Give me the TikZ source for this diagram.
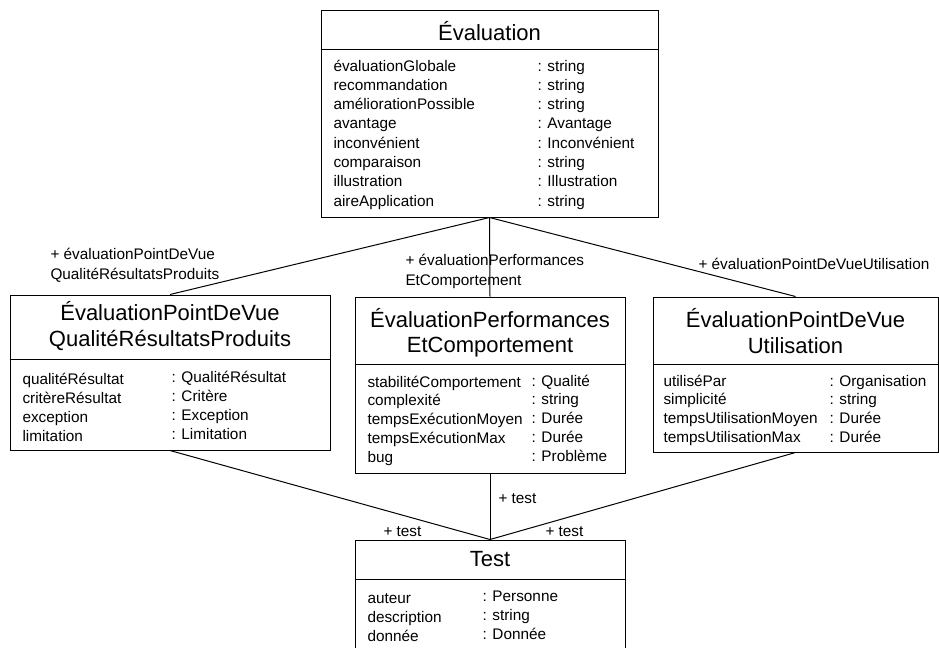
\documentclass[tikz,border=0pt]{standalone}
\usepackage{fontspec}
\setmainfont{Liberation Sans}

\begin{document}
\begin{tikzpicture}[
  x=0.75pt, y=-0.75pt,
  line width=0.75pt,
  every node/.style={inner sep=0pt},
  classbox/.style 2 args={draw,minimum width=#1,minimum height=#2},
  title/.style={align=center,font=\fontsize{16.5}{19}\selectfont},
  attr/.style={anchor=base west,font=\fontsize{11.5}{14}\selectfont},
  role/.style={anchor=north west,align=left,font=\fontsize{11.5}{15}\selectfont}
]
  \useasboundingbox (0,0) rectangle (939,647);

  % classes
  \node[classbox={252.75pt}{155.25pt}] (eval) at (489.5,113.5) {};
  \node[classbox={240pt}{116.25pt}] (qual) at (170,372.5) {};
  \node[classbox={202.5pt}{132pt}] (perf) at (490,385) {};
  \node[classbox={213.75pt}{116.25pt}] (util) at (795.5,374.5) {};
  \node[classbox={202.5pt}{90pt}] (test) at (490,600) {};

  \draw ([yshift=-30pt]eval.north west) -- ([yshift=-30pt]eval.north east);
  \draw ([yshift=-48.75pt]qual.north west) -- ([yshift=-48.75pt]qual.north east);
  \draw ([yshift=-51pt]perf.north west) -- ([yshift=-51pt]perf.north east);
  \draw ([yshift=-51pt]util.north west) -- ([yshift=-51pt]util.north east);
  \draw ([yshift=-30pt]test.north west) -- ([yshift=-30pt]test.north east);

  % titles
  \node[title] (eval-t) at (489.5,31) {Évaluation};
  \node[title] (qual-t) at (170,326) {ÉvaluationPointDeVue\\QualitéRésultatsProduits};
  \node[title] (perf-t) at (490,333) {ÉvaluationPerformances\\EtComportement};
  \node[title] (util-t) at (795.5,331) {ÉvaluationPointDeVue\\Utilisation};
  \node[title] (test-t) at (490,559) {Test};

  % attributes
  \foreach \n/\t [count=\i] in {évaluationGlobale/string, recommandation/string,
      améliorationPossible/string, avantage/Avantage, inconvénient/Inconvénient,
      comparaison/string, illustration/Illustration, aireApplication/string} {
    \node[attr] (eval-a\i) at (333,{71+19.3*(\i-1)}) {\n};
    \node[attr] (eval-b\i) at (537,{71+19.3*(\i-1)}) {: \t};
  }
  \foreach \n/\t [count=\i] in {qualitéRésultat/QualitéRésultat, critèreRésultat/Critère,
      exception/Exception, limitation/Limitation} {
    \node[attr] (qual-a\i) at (22,{384+19*(\i-1)}) {\n};
    \node[attr] (qual-b\i) at (171,{382+19*(\i-1)}) {: \t};
  }
  \foreach \n/\t [count=\i] in {stabilitéComportement/Qualité, complexité/string,
      tempsExécutionMoyen/Durée, tempsExécutionMax/Durée, bug/Problème} {
    \node[attr] (perf-a\i) at (367,{387+18.8*(\i-1)}) {\n};
    \node[attr] (perf-b\i) at (531,{386+18.8*(\i-1)}) {: \t};
  }
  \foreach \n/\t [count=\i] in {utiliséPar/Organisation, simplicité/string,
      tempsUtilisationMoyen/Durée, tempsUtilisationMax/Durée} {
    \node[attr] (util-a\i) at (663,{386+18.8*(\i-1)}) {\n};
    \node[attr] (util-b\i) at (829,{386+18.8*(\i-1)}) {: \t};
  }
  \foreach \n/\t [count=\i] in {auteur/Personne, description/string, donnée/Donnée} {
    \node[attr] (test-a\i) at (367,{603+19*(\i-1)}) {\n};
    \node[attr] (test-b\i) at (482,{601+19*(\i-1)}) {: \t};
  }

  % associations
  \draw (eval.south) -- (qual.north);
  \draw (eval.south) -- (perf.north);
  \draw (eval.south) -- (util.north);
  \draw (qual.south) -- (test.north);
  \draw (perf.south) -- (test.north);
  \draw (util.south) -- (test.north);

  % role names
  \node[role] (r-qual) at (50,248) {+ évaluationPointDeVue\\QualitéRésultatsProduits};
  \node[role] (r-perf) at (405,254) {+ évaluationPerformances\\EtComportement};
  \node[role] (r-util) at (698,258) {+ évaluationPointDeVueUtilisation};
  \node[attr] (r-test1) at (383,536) {+ test};
  \node[attr] (r-test2) at (498,503) {+ test};
  \node[attr] (r-test3) at (545,536) {+ test};
\end{tikzpicture}
\end{document}
